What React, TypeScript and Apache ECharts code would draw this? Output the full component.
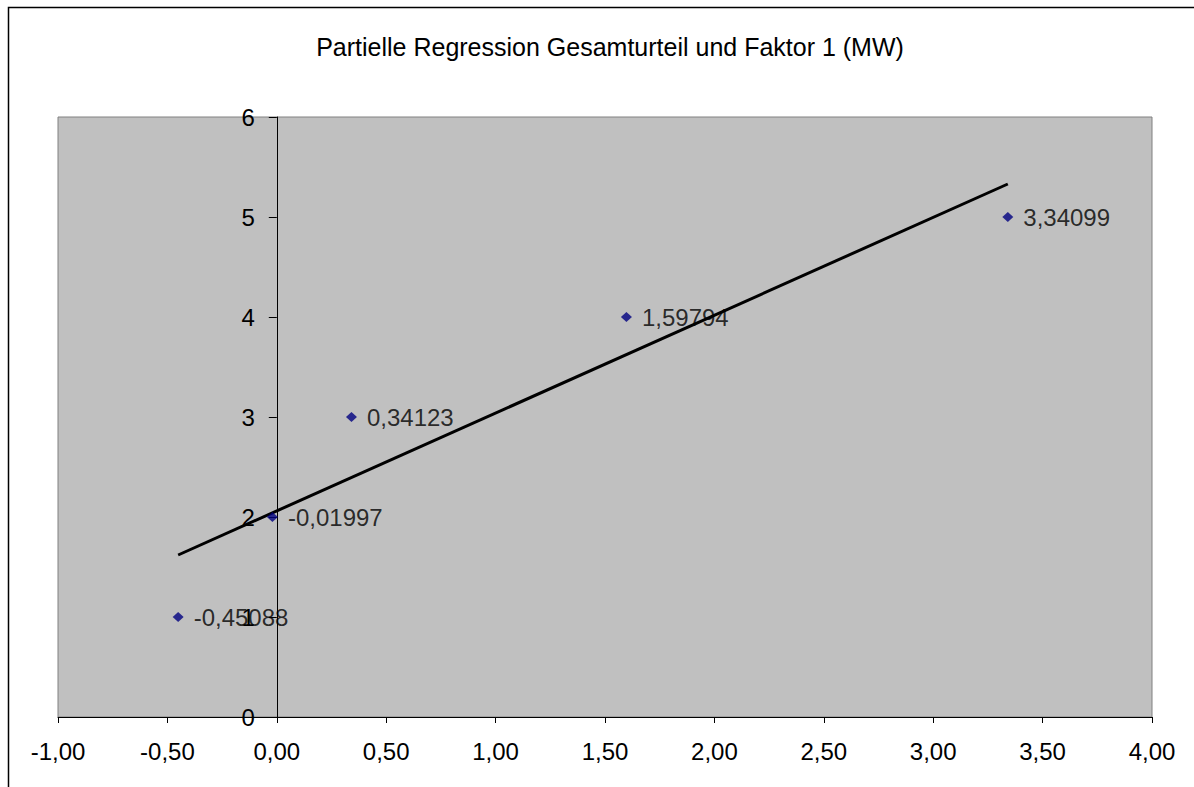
import React, { useEffect, useRef } from "react";
import * as echarts from "echarts";

const titleText = "Partielle Regression Gesamturteil und Faktor 1 (MW)";
const xValues = [-0.45088, -0.01997, 0.34123, 1.59794, 3.34099];
const yValues = [1, 2, 3, 4, 5];
const pointLabels = ["-0,45088", "-0,01997", "0,34123", "1,59794", "3,34099"];
const trendX = [-0.45088, 3.34099];
const trendY = [1.62, 5.33];

const FONT = "'Liberation Sans', Arial, sans-serif";
const GRID_LEFT = 58;
const GRID_WIDTH = 1094;
const X_MIN = -1;
const X_MAX = 4;

export default function App() {
  const ref = useRef<HTMLDivElement>(null);
  useEffect(() => {
    if (!ref.current) return;
    const chart = echarts.init(ref.current, undefined, { renderer: "svg" });
    const points = xValues.map((x, i) => ({ value: [x, yValues[i]], label: { formatter: pointLabels[i] } }));
    const trend = trendX.map((x, i) => [x, trendY[i]]);
    const yAxisOffset = -((0 - X_MIN) / (X_MAX - X_MIN)) * GRID_WIDTH;
    chart.setOption({
      animation: false,
      backgroundColor: "#ffffff",
      textStyle: { fontFamily: FONT },
      title: {
        text: titleText,
        left: 605,
        top: 29,
        textAlign: "center",
        textStyle: { fontFamily: FONT, fontSize: 25, fontWeight: "normal", color: "#000" },
      },
      graphic: [
        {
          type: "rect",
          shape: { x: 8.5, y: 7.5, width: 1220, height: 820 },
          style: { fill: "none", stroke: "#000", lineWidth: 1.5 },
          silent: true,
          z: 100,
        },
      ],
      grid: {
        left: GRID_LEFT,
        top: 117,
        width: GRID_WIDTH,
        height: 600,
        show: true,
        backgroundColor: "#C0C0C0",
        borderColor: "#808080",
        borderWidth: 1,
      },
      xAxis: {
        type: "value",
        min: X_MIN,
        max: X_MAX,
        interval: 0.5,
        splitLine: { show: false },
        axisLine: { show: true, onZero: false, lineStyle: { color: "#000", width: 1 } },
        axisTick: { show: true, inside: false, length: 6, lineStyle: { color: "#000" } },
        axisLabel: {
          color: "#000",
          fontSize: 24,
          fontFamily: FONT,
          margin: 22,
          formatter: (v: number) => v.toFixed(2).replace(".", ","),
        },
      },
      yAxis: {
        type: "value",
        min: 0,
        max: 6,
        interval: 1,
        offset: yAxisOffset,
        splitLine: { show: false },
        axisLine: { show: true, onZero: false, lineStyle: { color: "#000", width: 1 } },
        axisTick: { show: true, inside: false, length: 8, lineStyle: { color: "#000" } },
        axisLabel: {
          color: "#000",
          fontSize: 24,
          fontFamily: FONT,
          margin: 22,
          formatter: (v: number) => String(v),
        },
      },
      series: [
        {
          type: "line",
          data: trend,
          symbol: "none",
          lineStyle: { color: "#000", width: 3 },
          z: 3,
        },
        {
          type: "scatter",
          data: points,
          symbol: "diamond",
          symbolSize: [11, 10],
          itemStyle: { color: "#000080" },
          label: {
            show: true,
            position: "right",
            distance: 10,
            color: "#000",
            fontSize: 24,
            fontFamily: FONT,
          },
          z: 4,
        },
      ],
    });
    return () => chart.dispose();
  }, []);
  return (
    <div
      ref={ref}
      style={{ position: "absolute", left: 0, top: 0, width: 1194, height: 787 }}
    />
  );
}
